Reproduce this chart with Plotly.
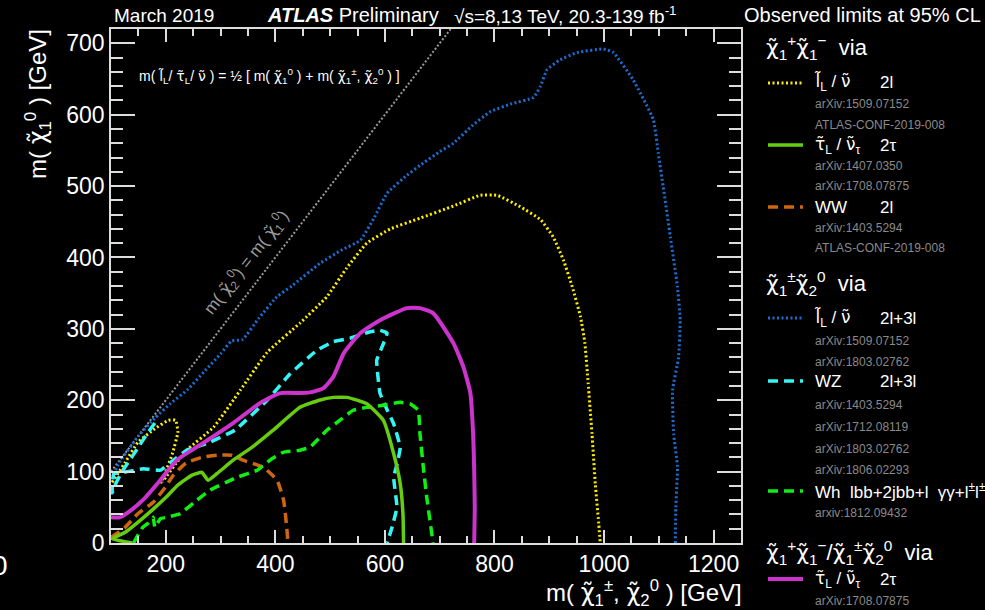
import plotly.graph_objects as go

# ---------------- data ----------------
x_diag = [100, 720]
y_diag = [100, 720]

# chi1+chi1- via slepton (2l) - yellow dotted
x_yel = [102, 126, 149, 180, 205, 218, 222, 212, 200, 192, 200, 215, 238, 287, 336, 385, 445, 494,
         530, 567, 610, 664, 725, 774, 805, 847, 884, 907, 926, 942, 957, 965, 971, 978, 984, 990, 993]
y_yel = [85, 113, 141, 160, 172, 172, 155, 125, 100, 85, 92, 108, 130, 162, 214, 267, 308, 345,
         385, 420, 440, 455, 472, 487, 487, 471, 453, 429, 396, 359, 317, 280, 224, 153, 83, 30, 0]

# chi1+chi1- via stau (2tau) - green solid
x_grs = [139, 102, 126, 149, 175, 199, 222, 248, 266, 277, 293, 323, 359, 396, 445, 480, 506, 531,
         567, 597, 616, 628, 633, 634]
y_grs = [0, 6, 15, 29, 46, 63, 81, 95, 99, 88, 97, 116, 135, 158, 190, 200, 204, 204,
         195, 172, 125, 83, 40, 0]

# chi1+chi1- via WW (2l) - orange dashed
x_ww = [100, 126, 149, 177, 199, 214, 237, 266, 295, 320, 341, 378, 403, 415, 421, 423]
y_ww = [8, 22, 41, 57, 78, 95, 112, 120, 123, 123, 116, 106, 88, 60, 20, 0]

# chi1+-chi20 via slepton (2l+3l) - blue dotted
x_blu = [103, 113, 150, 180, 208, 240, 270, 300, 320, 340, 370, 403, 430, 482, 520, 555, 580, 604,
         640, 664, 700, 725, 760, 792, 830, 871, 884, 896, 920, 951, 999, 1017, 1053, 1090, 1099,
         1108, 1121, 1134, 1139, 1136, 1125, 1127, 1134, 1131, 1130]
y_blu = [90, 110, 150, 175, 195, 215, 240, 265, 283, 285, 315, 345, 360, 392, 410, 424, 455, 490,
         515, 529, 548, 560, 585, 604, 615, 624, 640, 663, 677, 687, 692, 687, 649, 593, 546,
         499, 429, 359, 312, 260, 214, 153, 107, 50, 0]

# chi1+-chi20 via WZ (2l+3l) - cyan dashed
x_wz = [180, 165, 148, 135, 120, 108, 102, 103, 105, 130, 159, 190, 214, 238, 277, 326, 385, 427,
        476, 506, 537, 573, 591, 604, 595, 585, 591, 605, 616, 628, 622, 616, 622, 613, 604]
y_wz = [168, 152, 132, 117, 100, 82, 70, 85, 97, 100, 104, 102, 116, 130, 140, 158, 200, 237,
        270, 282, 287, 296, 298, 294, 275, 256, 210, 185, 167, 134, 110, 92, 50, 22, 0]

# chi1+-chi20 via Wh - green dashed
x_wh = [141, 150, 158, 168, 177, 180, 190, 202, 226, 257, 281, 330, 367, 390, 414, 445, 463, 494,
        518, 542, 567, 597, 628, 646, 661, 664, 670, 677, 688]
y_wh = [0, 12, 22, 28, 36, 22, 34, 36, 41, 60, 74, 92, 102, 116, 127, 130, 134, 158,
        172, 186, 190, 193, 197, 195, 186, 153, 107, 60, 0]

# combined chi1+chi1- / chi1+-chi20 via stau (2tau) - magenta solid
x_mag = [100, 116, 135, 158, 190, 220, 262, 323, 372, 409, 445, 463, 488, 506, 525, 555, 591, 640,
         664, 688, 725, 743, 756, 761, 763, 764, 763]
y_mag = [36, 36, 45, 60, 88, 116, 137, 168, 196, 210, 210, 211, 217, 233, 266, 294, 312, 329,
         329, 322, 280, 247, 210, 153, 100, 50, 0]

x_range = [100, 1250]
y_range = [0, 720]

# ---------------- styling ----------------
C_YEL = "#ffee00"
C_GRS = "#66cc11"
C_WW = "#cc6611"
C_BLU = "#1a6fd6"
C_WZ = "#33f5f5"
C_WH = "#11ee11"
C_MAG = "#cc33cc"
C_GRAY = "#9a9a9a"
C_REF = "#8a8a8a"
FONT = "Liberation Sans, Arial, Helvetica, sans-serif"
DOT = "2px,2.5px"
DASH = "10px,6px"

L, R, T, B = 111, 741, 29, 543
W, H = R - L, B - T


def px(xp):
    return (xp - L) / W


def py(yp):
    return (B - yp) / H


fig = go.Figure()


def add(x, y, color, width, dash, smooth=0.5):
    fig.add_trace(go.Scatter(
        x=x, y=y, mode="lines", hoverinfo="skip", showlegend=False,
        line=dict(color=color, width=width, dash=dash, shape="spline", smoothing=smooth)))


add(x_diag, y_diag, C_GRAY, 2, "2px,2px", 0)
add(x_yel, y_yel, C_YEL, 3, DOT, 0.4)
add(x_blu, y_blu, C_BLU, 3, DOT, 0.4)
add(x_ww, y_ww, C_WW, 3.5, DASH)
add(x_wz, y_wz, C_WZ, 3.5, DASH, 0.3)
add(x_wh, y_wh, C_WH, 3.5, DASH, 0.3)
add(x_grs, y_grs, C_GRS, 3.5, "solid", 0.4)
add(x_mag, y_mag, C_MAG, 4, "solid", 0.5)

axcol = "#dddddd"
fig.update_xaxes(range=x_range, showgrid=False, zeroline=False, showline=True, linecolor=axcol,
                 linewidth=1.5, mirror="allticks", ticks="inside", ticklen=13, tickwidth=1.5,
                 tickcolor=axcol, tick0=0, dtick=200,
                 minor=dict(dtick=50, ticklen=7, ticks="inside", tickcolor=axcol, tickwidth=1.5),
                 tickfont=dict(size=23, color="white", family=FONT))
fig.update_yaxes(range=y_range, showgrid=False, zeroline=False, showline=True, linecolor=axcol,
                 linewidth=1.5, mirror="allticks", ticks="inside", ticklen=24, tickwidth=1.5,
                 tickcolor=axcol, tick0=0, dtick=100,
                 minor=dict(dtick=20, ticklen=12, ticks="inside", tickcolor=axcol, tickwidth=1.5),
                 tickfont=dict(size=23, color="white", family=FONT))


def tl(ch):
    # glyph with a combining tilde, in a font that positions the mark over the glyph
    return "<span style='font-family:DejaVu Sans'>" + ch + "\u0303</span>"


chi = tl("\u03c7")
slep = tl("l")
stau = tl("\u03c4")
snu = tl("\u03bd")
anns = []


def txt(xp, yp, text, size, color="white", xanchor="left", yanchor="middle", angle=0):
    anns.append(dict(x=px(xp), y=py(yp), xref="paper", yref="paper", text=text, showarrow=False,
                     xanchor=xanchor, yanchor=yanchor, textangle=angle,
                     font=dict(size=size, color=color, family=FONT)))


# header
txt(112, 15, "March 2019", 19)
txt(265, 15, "<b><i>ATLAS</i></b> Preliminary", 20)
txt(452, 15, "\u221as=8,13 TeV, 20.3-139 fb<sup>-1</sup>", 19)
txt(742, 15, "Observed limits at 95% CL", 20)

# axis titles
txt(38, 27, "m( " + chi + "<sub>1</sub><sup>0</sup> ) [GeV]", 24, xanchor="center", yanchor="top", angle=-90)
txt(744, 593, "m( " + chi + "<sub>1</sub><sup>\u00b1</sup>, " + chi + "<sub>2</sub><sup>0</sup> ) [GeV]",
    24, xanchor="right")
txt(0, 565, "0", 28, xanchor="center")

# in-plot labels
txt(137, 76, "m( " + slep + "<sub>L</sub>/ " + stau + "<sub>L</sub>/ " + snu + " ) = \u00bd [ m( " + chi +
    "<sub>1</sub><sup>0</sup> ) + m( " + chi + "<sub>1</sub><sup>\u00b1</sup>, " + chi +
    "<sub>2</sub><sup>0</sup> ) ]", 14)
txt(246, 262, "m( " + chi + "<sub>2</sub><sup>0</sup>) = m( " + chi + "<sub>1</sub><sup>0</sup>)", 17,
    color=C_GRAY, xanchor="center", angle=-52)

# legend
shapes = []


def sample(yp, color, width, dash):
    shapes.append(dict(type="line", xref="paper", yref="paper", x0=px(768), x1=px(803),
                       y0=py(yp), y1=py(yp), line=dict(color=color, width=width, dash=dash)))


X1, X2, XT = 813, 878, 764
txt(XT, 48, chi + "<sub>1</sub><sup>+</sup>" + chi + "<sub>1</sub><sup>\u2212</sup>  via", 22)
sample(83, C_YEL, 3, DOT)
txt(X1, 83, slep + "<sub>L</sub> / " + snu, 17)
txt(X2, 83, "2l", 17)
txt(X1, 104, "arXiv:1509.07152", 12, C_REF)
txt(X1, 125, "ATLAS-CONF-2019-008", 12, C_REF)
sample(145, C_GRS, 3.5, "solid")
txt(X1, 145, stau + "<sub>L</sub> / " + snu + "<sub>\u03c4</sub>", 17)
txt(X2, 145, "2\u03c4", 17)
txt(X1, 166, "arXiv:1407.0350", 12, C_REF)
txt(X1, 186, "arXiv:1708.07875", 12, C_REF)
sample(207, C_WW, 3.5, DASH)
txt(X1, 207, "WW", 17)
txt(X2, 207, "2l", 17)
txt(X1, 228, "arXiv:1403.5294", 12, C_REF)
txt(X1, 248, "ATLAS-CONF-2019-008", 12, C_REF)

txt(XT, 283, chi + "<sub>1</sub><sup>\u00b1</sup>" + chi + "<sub>2</sub><sup>0</sup>  via", 22)
sample(318, C_BLU, 3, DOT)
txt(X1, 318, slep + "<sub>L</sub> / " + snu, 17)
txt(X2, 318, "2l+3l", 17)
txt(X1, 341, "arXiv:1509.07152", 12, C_REF)
txt(X1, 362, "arXiv:1803.02762", 12, C_REF)
sample(381, C_WZ, 3.5, DASH)
txt(X1, 381, "WZ", 17)
txt(X2, 381, "2l+3l", 17)
txt(X1, 405, "arXiv:1403.5294", 12, C_REF)
txt(X1, 427, "arXiv:1712.08119", 12, C_REF)
txt(X1, 449, "arXiv:1803.02762", 12, C_REF)
txt(X1, 470, "arXiv:1806.02293", 12, C_REF)
sample(491, C_WH, 3.5, DASH)
txt(X1, 491, "Wh  lbb+2jbb+l  \u03b3\u03b3+l<sup>\u00b1</sup>l<sup>\u00b1</sup>", 17)
txt(X1, 513, "arxiv:1812.09432", 12, C_REF)

txt(XT, 552, chi + "<sub>1</sub><sup>+</sup>" + chi + "<sub>1</sub><sup>\u2212</sup>/" + chi +
    "<sub>1</sub><sup>\u00b1</sup>" + chi + "<sub>2</sub><sup>0</sup>  via", 22)
sample(579, C_MAG, 4, "solid")
txt(X1, 579, stau + "<sub>L</sub> / " + snu + "<sub>\u03c4</sub>", 17)
txt(X2, 579, "2\u03c4", 17)
txt(X1, 601, "arXiv:1708.07875", 12, C_REF)

fig.update_layout(width=985, height=610, margin=dict(l=L, r=985 - R, t=T, b=610 - B),
                  paper_bgcolor="black", plot_bgcolor="black", showlegend=False,
                  annotations=anns, shapes=shapes, font=dict(family=FONT, color="white"))

fig.write_html("out.html", config={"displayModeBar": False},
               post_script="document.body.style.margin='0px';document.body.style.background='black';")
